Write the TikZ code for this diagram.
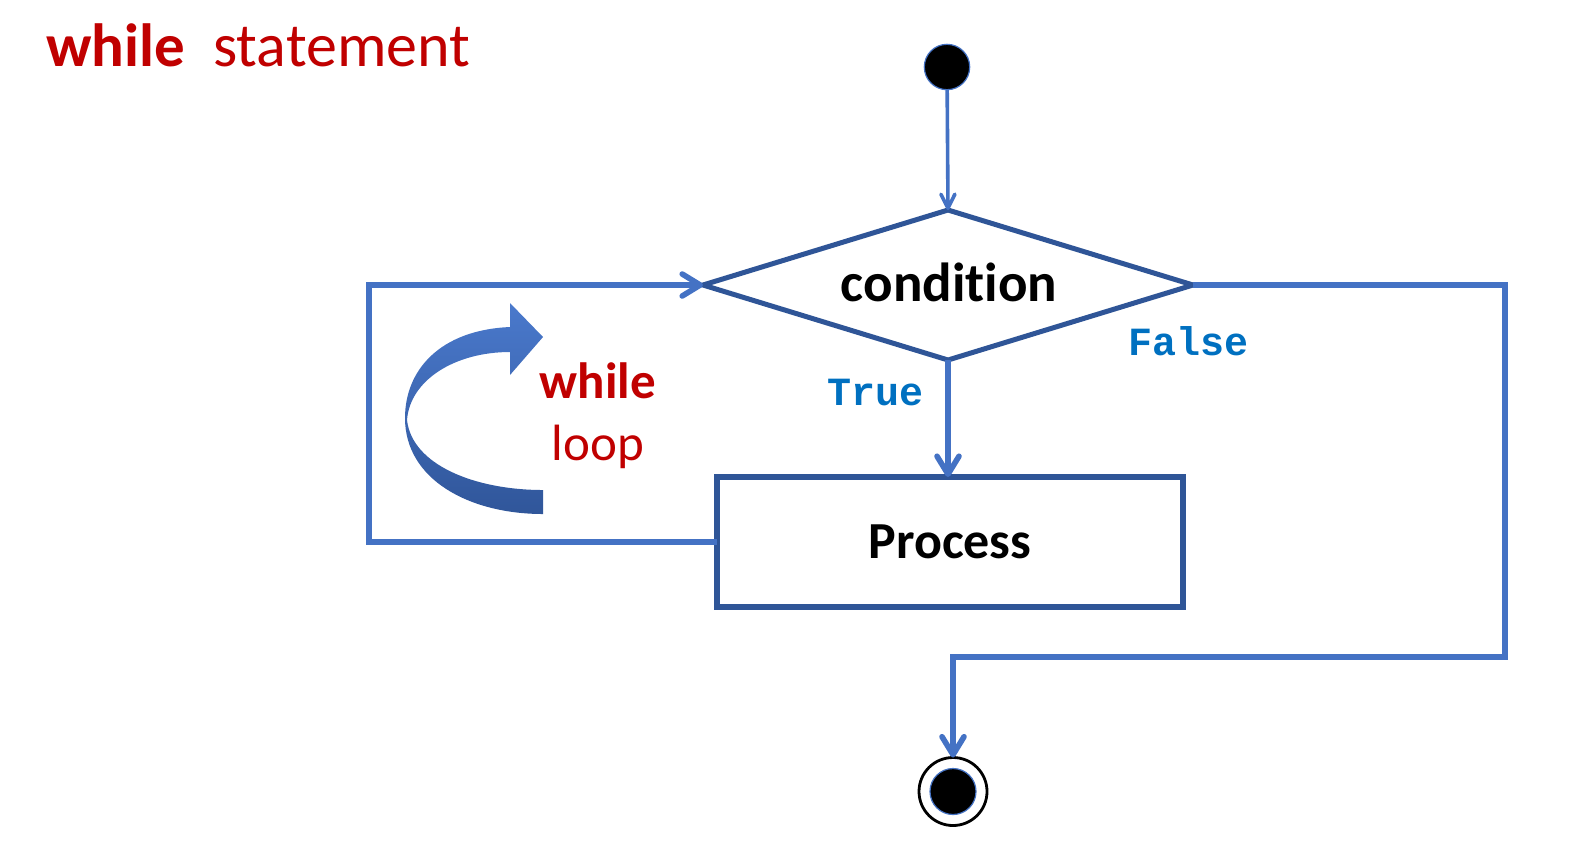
\documentclass[tikz,border=0pt]{standalone}
\usepackage{fontspec}
\setmainfont{Carlito}[Ligatures=NoCommon]
\setmonofont{Liberation Mono}
\usetikzlibrary{shapes.geometric,arrows.meta}
\definecolor{cLine}{HTML}{4472C4}
\definecolor{cDark}{HTML}{2F5597}
\definecolor{cRed}{HTML}{C00000}
\definecolor{cBlue}{HTML}{0070C0}
\definecolor{cArrowTop}{HTML}{4A79CC}
\definecolor{cArrowBot}{HTML}{30569A}
\tikzset{
  conn/.style={draw=cLine, line width=2.8pt, line join=miter,
    -{Straight Barb[length=9pt,width=11pt,round]}},
  thinconn/.style={draw=cLine, line width=1.8pt,
    -{Straight Barb[length=7pt,width=7pt,round]}},
  shapebox/.style={draw=cDark, fill=white, outer sep=0pt, inner sep=0pt},
  redtext/.style={text=cRed, inner sep=0pt, anchor=base},
  bluetext/.style={text=cBlue, inner sep=0pt, anchor=base,
    font=\ttfamily\bfseries\fontsize{20}{24}\selectfont},
  blackdot/.style={circle, fill=black, draw=cLine, line width=0.6pt,
    inner sep=0pt, outer sep=0pt},
}
\begin{document}
\begin{tikzpicture}[x=0.5pt,y=-0.5pt]
\useasboundingbox (0,0) rectangle (1582,864);

% title
\node[redtext, anchor=base west, font=\bfseries\fontsize{30.5}{36}\selectfont] (t1) at (46,66) {while};
\node[redtext, anchor=base west, font=\fontsize{31}{37}\selectfont] (t2) at (213,66) {statement};

% start
\node[blackdot, minimum size=22.7pt] (start) at (947,67) {};

% decision
\node[shapebox, diamond, line width=2.5pt, minimum width=245pt, minimum height=75pt,
      aspect=3.27] (cond) at (948,285) {};
\node[inner sep=0pt, anchor=base, font=\bfseries\fontsize{27.5}{33}\selectfont] (condtext) at (949,301) {condition};

% process
\node[shapebox, rectangle, line width=3pt, minimum width=233pt, minimum height=65pt,
      font=\bfseries\fontsize{26}{31}\selectfont] (proc) at (950,542) {Process};

% end
\node[circle, draw=black, line width=1.4pt, fill=white, minimum size=34pt,
      inner sep=0pt, outer sep=0pt] (end) at (953,791.5) {};
\node[blackdot, minimum size=23pt] (endin) at (end.center) {};

% connectors
\draw[thinconn] (start) -- (cond.north);
\draw[conn] (cond.south) -- (cond.south |- proc.north);
\draw[conn] (proc.west) -- ++(-348,0) |- (cond.west);
\draw[conn] (cond.east) -| (1505,657) -| (end.north);

% labels
\node[bluetext] (ltrue) at (875,405) {True};
\node[bluetext] (lfalse) at (1188,355) {False};

% curved arrow
\shade[top color=cArrowTop, bottom color=cArrowBot]
  (543,337) -- (510,303) -- (510,327)
  .. controls (440,330) and (405,370) .. (405,418)
  .. controls (405,480) and (470,514) .. (543,514)
  -- (543,490)
  .. controls (475,490) and (412,465) .. (407,420)
  .. controls (410,380) and (455,352) .. (510,352)
  -- (510,375) -- cycle;

\node[redtext, font=\bfseries\fontsize{25.5}{30}\selectfont] (lw) at (598,398) {while};
\node[redtext, font=\fontsize{25.5}{30}\selectfont] (ll) at (598,460) {loop};
\end{tikzpicture}
\end{document}
